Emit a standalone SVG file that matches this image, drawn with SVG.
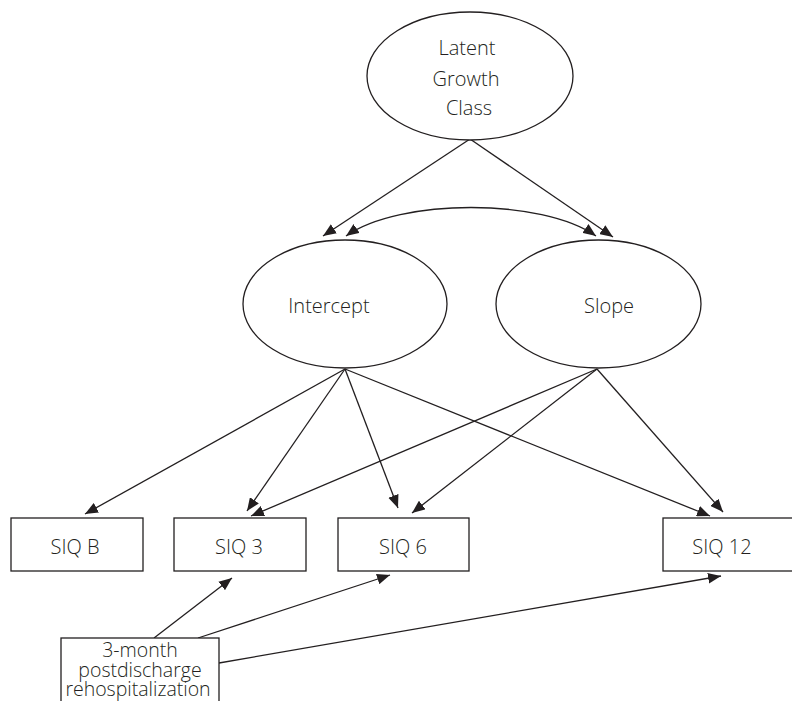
<svg xmlns="http://www.w3.org/2000/svg" width="792" height="701" viewBox="0 0 792 701">
<style>
.shape{fill:#ffffff;stroke:#231f20;stroke-width:1.3}
.lbl{font-family:"Open Sans","Liberation Sans",sans-serif;font-size:20px;fill:#231f20;text-anchor:middle;font-weight:300}
.small{font-size:19.5px}
.edge{fill:none;stroke:#231f20;stroke-width:1.3}
</style>
<defs>
<marker id="ah" viewBox="0 0 12 10" refX="12" refY="5" markerWidth="13" markerHeight="11" markerUnits="userSpaceOnUse" orient="auto-start-reverse">
<path d="M0,0 L12,5 L0,10 Z" fill="#231f20"/>
</marker>
</defs>
<rect width="792" height="701" fill="#ffffff"/>
<g id="connectors">
<line class="edge" x1="470" y1="139" x2="323" y2="236" marker-end="url(#ah)"/>
<line class="edge" x1="470" y1="139" x2="613" y2="237" marker-end="url(#ah)"/>
<path class="edge" d="M346,236 C400,198 542,198 596,236" marker-start="url(#ah)" marker-end="url(#ah)"/>
<line class="edge" x1="345" y1="369" x2="85" y2="514" marker-end="url(#ah)"/>
<line class="edge" x1="345" y1="369" x2="247" y2="511" marker-end="url(#ah)"/>
<line class="edge" x1="345" y1="369" x2="398" y2="508" marker-end="url(#ah)"/>
<line class="edge" x1="345" y1="369" x2="710" y2="516" marker-end="url(#ah)"/>
<line class="edge" x1="597" y1="369" x2="251" y2="516" marker-end="url(#ah)"/>
<line class="edge" x1="597" y1="369" x2="412" y2="513" marker-end="url(#ah)"/>
<line class="edge" x1="597" y1="369" x2="723" y2="512" marker-end="url(#ah)"/>
<line class="edge" x1="154" y1="638" x2="232" y2="578" marker-end="url(#ah)"/>
<line class="edge" x1="198" y1="638" x2="390" y2="575" marker-end="url(#ah)"/>
<line class="edge" x1="219" y1="663" x2="721" y2="576" marker-end="url(#ah)"/>
</g>
<g id="latent-growth-class">
<ellipse class="shape" cx="470" cy="76" rx="103" ry="64"/>
<text class="lbl" x="467" y="55">Latent</text>
<text class="lbl" x="466" y="86">Growth</text>
<text class="lbl" x="469" y="115">Class</text>
</g>
<g id="intercept">
<ellipse class="shape" cx="345" cy="304" rx="102" ry="64"/>
<text class="lbl" x="329" y="313">Intercept</text>
</g>
<g id="slope">
<ellipse class="shape" cx="598.5" cy="304" rx="102.5" ry="64"/>
<text class="lbl" x="609" y="313">Slope</text>
</g>
<g id="siq-b">
<rect class="shape" x="11" y="518" width="132" height="53"/>
<text class="lbl" x="75" y="554">SIQ B</text>
</g>
<g id="siq-3">
<rect class="shape" x="174" y="518" width="132" height="53"/>
<text class="lbl" x="239" y="554">SIQ 3</text>
</g>
<g id="siq-6">
<rect class="shape" x="338" y="518" width="131" height="53"/>
<text class="lbl" x="403" y="554">SIQ 6</text>
</g>
<g id="siq-12">
<rect class="shape" x="663" y="518" width="140" height="53"/>
<text class="lbl" x="722" y="554">SIQ 12</text>
</g>
<g id="rehospitalization">
<rect class="shape" x="61" y="638" width="158" height="80"/>
<text class="lbl small" x="140" y="657">3-month</text>
<text class="lbl small" x="140" y="677">postdischarge</text>
<text class="lbl small" x="138" y="696">rehospitalization</text>
</g>
</svg>
